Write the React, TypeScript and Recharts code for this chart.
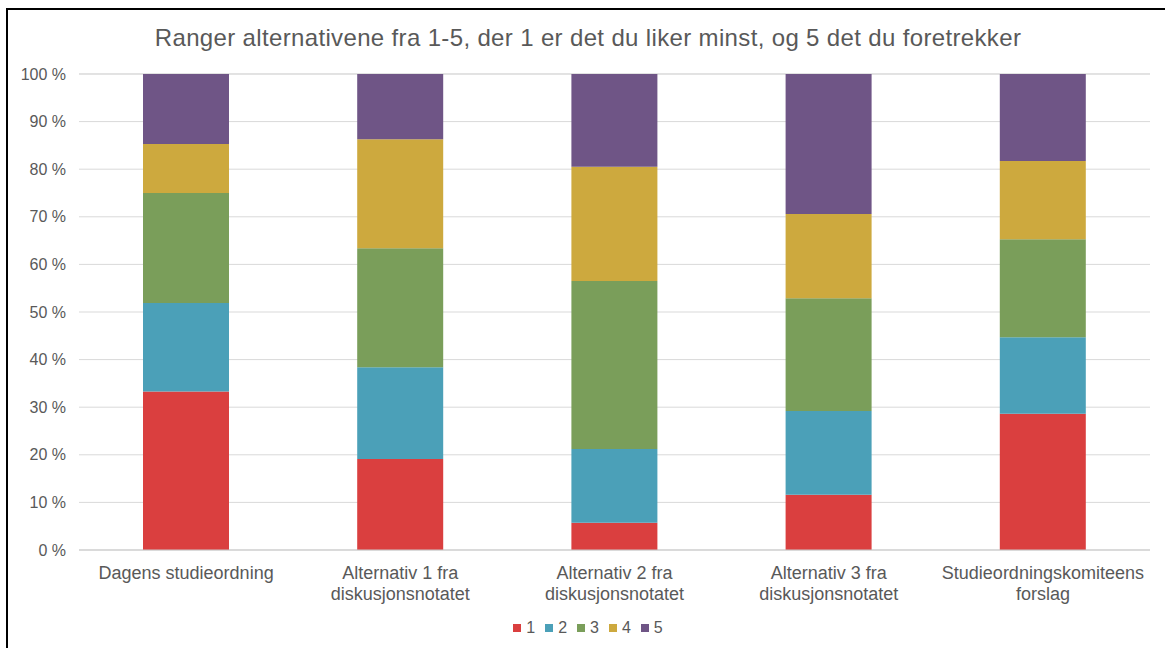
import React from "react";
import { Bar, BarChart, CartesianGrid, XAxis, YAxis } from "recharts";

const categories = [
  "Dagens studieordning",
  "Alternativ 1 fra\ndiskusjonsnotatet",
  "Alternativ 2 fra\ndiskusjonsnotatet",
  "Alternativ 3 fra\ndiskusjonsnotatet",
  "Studieordningskomiteens\nforslag",
];

// percent share of each rank per alternative
const rank1 = [33.3, 19.1, 5.7, 11.6, 28.6];
const rank2 = [18.6, 19.3, 15.5, 17.6, 16.1];
const rank3 = [23.1, 25.0, 35.3, 23.7, 20.6];
const rank4 = [10.3, 22.9, 24.0, 17.7, 16.4];
const rank5 = [14.7, 13.7, 19.5, 29.4, 18.3];

const yTicks = [0, 10, 20, 30, 40, 50, 60, 70, 80, 90, 100];

const seriesNames = ["1", "2", "3", "4", "5"];
const seriesColors = ["#DA3F3F", "#4BA0B8", "#7A9E5A", "#CDA93E", "#6F5586"];

const FONT = '"Liberation Sans", Arial, sans-serif';
const TEXT = "#595959";

const data = categories.map((name, i) => ({
  name,
  r1: rank1[i],
  r2: rank2[i],
  r3: rank3[i],
  r4: rank4[i],
  r5: rank5[i],
}));

function CategoryTick({ x, y, payload }: any) {
  const lines = String(payload.value).split("\n");
  return (
    <text x={x} y={550} textAnchor="middle" fill={TEXT} fontSize={18} fontFamily={FONT}>
      {lines.map((line, i) => (
        <tspan key={i} x={x} dy={i === 0 ? 29 : 21}>
          {line}
        </tspan>
      ))}
    </text>
  );
}

function LegendContent() {
  return (
    <div style={{ display: "flex", justifyContent: "center", gap: 10, fontFamily: FONT, fontSize: 16, color: TEXT }}>
      {seriesNames.map((n, i) => (
        <div key={n} style={{ display: "flex", alignItems: "center", gap: 5 }}>
          <span style={{ width: 8, height: 8, background: seriesColors[i], display: "inline-block" }} />
          <span>{n}</span>
        </div>
      ))}
    </div>
  );
}

export default function App() {
  return (
    <div style={{ position: "absolute", left: 0, top: 0, width: 1165, height: 648, overflow: "hidden", background: "#fff" }}>
      <div
        style={{
          position: "absolute",
          left: 6,
          top: 8,
          width: 1200,
          height: 700,
          borderLeft: "2px solid #000",
          borderTop: "2px solid #000",
        }}
      />
      <div
        style={{
          position: "absolute",
          left: 0,
          top: 24,
          width: 1176,
          textAlign: "center",
          fontFamily: FONT,
          fontSize: 24,
          letterSpacing: 0.35,
          color: TEXT,
        }}
      >
        Ranger alternativene fra 1-5, der 1 er det du liker minst, og 5 det du foretrekker
      </div>
      <div style={{ position: "absolute", left: 0, top: 0 }}>
        <BarChart
          width={1165}
          height={648}
          data={data}
          margin={{ top: 74, right: 15, left: 9, bottom: 48 }}
          barSize={86}
        >
          <CartesianGrid vertical={false} stroke="#d9d9d9" />
          <XAxis
            dataKey="name"
            tick={<CategoryTick />}
            tickLine={false}
            axisLine={{ stroke: "#c8c8c8" }}
            interval={0}
            height={50}
          />
          <YAxis
            width={70}
            domain={[0, 100]}
            ticks={yTicks}
            tickFormatter={(v: number) => `${v} %`}
            tick={{ fill: TEXT, fontSize: 16, fontFamily: FONT }}
            tickLine={false}
            axisLine={false}
            tickMargin={7}
          />
          {seriesNames.map((n, i) => (
            <Bar
              key={n}
              dataKey={`r${i + 1}`}
              name={n}
              stackId="a"
              fill={seriesColors[i]}
              isAnimationActive={false}
            />
          ))}
        </BarChart>
      </div>
      <div style={{ position: "absolute", left: 0, top: 619, width: 1176 }}>
        <LegendContent />
      </div>
    </div>
  );
}
